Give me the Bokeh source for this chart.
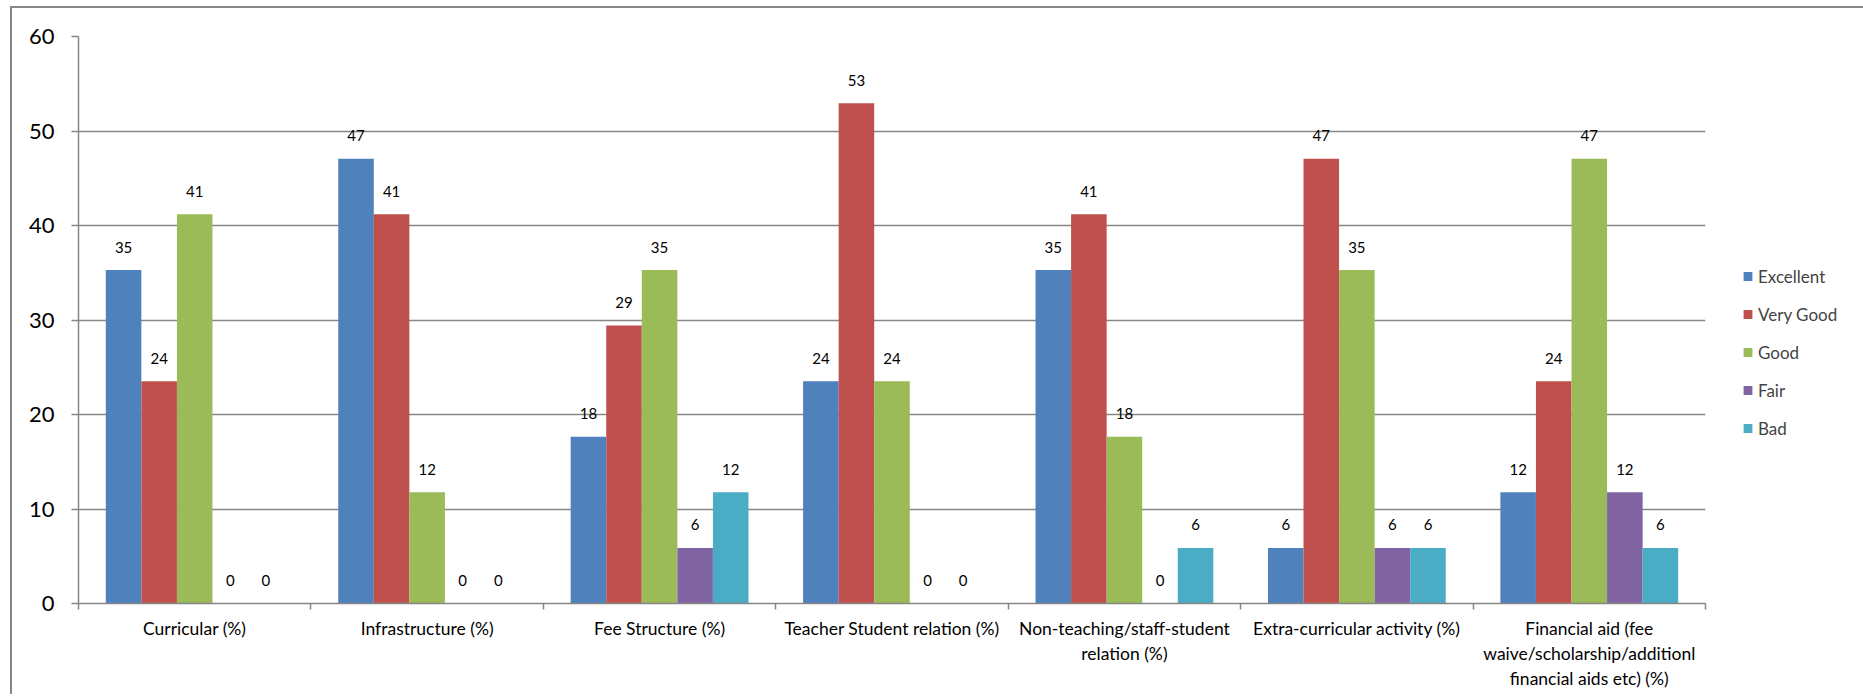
from bokeh.plotting import figure
from bokeh.models import (Range1d, LinearAxis, FixedTicker, Legend, LegendItem, ColumnDataSource)
from bokeh.transform import dodge
from bokeh.core.properties import value
from bokeh.embed import file_html
from bokeh.resources import INLINE

categories = [
    "Curricular (%)",
    "Infrastructure (%)",
    "Fee Structure (%)",
    "Teacher Student relation (%)",
    "Non-teaching/staff-student relation (%)",
    "Extra-curricular activity (%)",
    "Financial aid (fee waive/scholarship/additionl financial aids etc) (%)",
]
category_labels = [
    "Curricular (%)",
    "Infrastructure (%)",
    "Fee Structure (%)",
    "Teacher Student relation (%)",
    "Non-teaching/staff-student\nrelation (%)",
    "Extra-curricular activity (%)",
    "Financial aid (fee\nwaive/scholarship/additionl\nfinancial aids etc) (%)",
]
series_names = ["Excellent", "Very Good", "Good", "Fair", "Bad"]
excellent = [35.29, 47.06, 17.65, 23.53, 35.29, 5.88, 11.76]
very_good = [23.53, 41.18, 29.41, 52.94, 41.18, 47.06, 23.53]
good = [41.18, 11.76, 35.29, 23.53, 17.65, 35.29, 47.06]
fair = [0, 0, 5.88, 0, 0, 5.88, 11.76]
bad = [0, 0, 11.76, 0, 5.88, 5.88, 5.88]
series_values = [excellent, very_good, good, fair, bad]
colors = ["#4F81BD", "#C0504D", "#9BBB59", "#8064A2", "#4BACC6"]
y_ticks = [0, 10, 20, 30, 40, 50, 60]

FONT = "Lato"
GRID = "#868686"
n = len(categories)
centers = [i + 0.5 for i in range(n)]   # category slot centres on the x scale

p = figure(x_range=Range1d(0, n), y_range=Range1d(0, 60),
           width=1845, height=686, frame_width=1627, frame_height=567,
           output_backend="svg", toolbar_location=None,
           tools="", x_axis_location=None,
           min_border_left=66, min_border_right=152, min_border_top=28, min_border_bottom=91)
p.styles = {"border-left": "2px solid #868686", "border-top": "2px solid #868686",
            "margin-left": "10px", "margin-top": "6px"}
p.outline_line_color = None
p.background_fill_color = "white"
p.border_fill_color = "white"

# y axis
p.yaxis.ticker = FixedTicker(ticks=y_ticks)
p.yaxis.axis_line_color = GRID
p.yaxis.axis_line_width = 1.5
p.yaxis.major_tick_line_color = GRID
p.yaxis.major_tick_line_width = 1.5
p.yaxis.major_tick_out = 7
p.yaxis.major_tick_in = 0
p.yaxis.minor_tick_line_color = None
p.yaxis.major_label_text_font = FONT
p.yaxis.major_label_text_font_size = "22px"
p.yaxis.major_label_text_color = "black"
p.yaxis.major_label_standoff = 17
p.ygrid.grid_line_color = GRID
p.ygrid.grid_line_width = 1.5
p.xgrid.grid_line_color = None

# category separator ticks
tick_axis = LinearAxis(ticker=FixedTicker(ticks=list(range(n + 1))),
                       major_label_overrides={i: "" for i in range(n + 1)},
                       major_label_text_font_size="0px", major_label_standoff=0,
                       axis_line_color=GRID, axis_line_width=1.5,
                       major_tick_line_color=GRID, major_tick_line_width=1.5,
                       major_tick_out=6, major_tick_in=0, minor_tick_line_color=None)
p.add_layout(tick_axis, "below")

# category labels
cat_axis = LinearAxis(ticker=FixedTicker(ticks=centers),
                      major_label_overrides=dict(zip(centers, category_labels)),
                      axis_line_color=None, major_tick_line_color=None, minor_tick_line_color=None,
                      major_tick_out=0, major_tick_in=0, major_label_standoff=8,
                      major_label_text_font=FONT, major_label_text_font_size="17.5px",
                      major_label_text_color="black")
p.add_layout(cat_axis, "below")

bw = 0.153
items = []
for i, (name, vals, col) in enumerate(zip(series_names, series_values, colors)):
    src = ColumnDataSource(dict(x=centers, cat=categories, val=vals,
                                label=[str(round(v)) for v in vals]))
    off = (i - 2) * bw
    r = p.vbar(x=dodge("x", off), top="val", width=bw, source=src,
               fill_color=col, line_color=None)
    p.text(x=dodge("x", off), y="val", text="label", source=src,
           text_align="center", text_baseline="middle", y_offset=-23,
           text_font=value(FONT), text_font_size="15px", text_color="black")
    items.append(LegendItem(label=name, renderers=[r]))

legend = Legend(items=items, location="center_left", border_line_color=None,
                background_fill_alpha=0, glyph_width=11, glyph_height=11,
                label_text_font=FONT, label_text_font_size="17px", label_height=21,
                spacing=17, padding=10, label_standoff=5, margin=37,
                title=" ", title_text_font_size="50px", title_standoff=6)
p.add_layout(legend, "right")

open("out.html", "w").write(file_html(p, INLINE))
